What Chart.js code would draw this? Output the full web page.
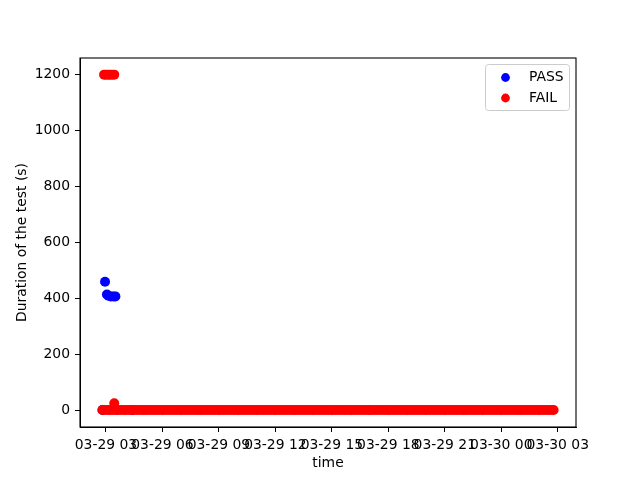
<!DOCTYPE html>
<html><head><meta charset="utf-8">
<script src="https://cdn.jsdelivr.net/npm/chart.js@4/dist/chart.umd.min.js"></script>
<style>html,body{margin:0;padding:0;background:#fff}#wrap{width:640px;height:480px}</style>
</head><body><div id="wrap"><canvas id="c" width="640" height="480"></canvas></div>
<script>
// x values are hours since 03-29 00:00
const seriesNames = ['PASS', 'FAIL'];
const passPoints = [[2.82,2],[2.95,460],[3.05,415],[3.13,410],[3.26,408],[3.40,408],[3.50,408],[3.60,3],[4.40,2]];
const failPoints = [
 [2.90,1200],[3.00,1200],[3.12,1200],[3.22,1200],[3.33,1200],[3.44,1200],[3.44,26],
 [2.81,2],[2.95,2],[3.10,2],[3.20,2],[3.35,2],[3.50,2],[3.65,2],[3.80,2],[3.95,2],
 [4.05,2],[4.20,2],[4.35,2],[4.50,2],[4.65,2],[4.80,2],[4.95,2],
 [5.05,2],[5.20,2],[5.35,2],[5.50,2],[5.65,2],[5.80,2],[5.95,2],
 [6.05,2],[6.20,2],[6.35,2],[6.50,2],[6.65,2],[6.80,2],[6.95,2],
 [7.05,2],[7.20,2],[7.35,2],[7.50,2],[7.65,2],[7.80,2],[7.95,2],
 [8.05,2],[8.20,2],[8.35,2],[8.50,2],[8.65,2],[8.80,2],[8.95,2],
 [9.05,2],[9.20,2],[9.35,2],[9.50,2],[9.65,2],[9.80,2],[9.95,2],
 [10.05,2],[10.20,2],[10.35,2],[10.50,2],[10.65,2],[10.80,2],[10.95,2],
 [11.05,2],[11.20,2],[11.35,2],[11.50,2],[11.65,2],[11.80,2],[11.95,2],
 [12.05,2],[12.20,2],[12.35,2],[12.50,2],[12.65,2],[12.80,2],[12.95,2],
 [13.05,2],[13.20,2],[13.35,2],[13.50,2],[13.65,2],[13.80,2],[13.95,2],
 [14.05,2],[14.20,2],[14.35,2],[14.50,2],[14.65,2],[14.80,2],[14.95,2],
 [15.05,2],[15.20,2],[15.35,2],[15.50,2],[15.65,2],[15.80,2],[15.95,2],
 [16.05,2],[16.20,2],[16.35,2],[16.50,2],[16.65,2],[16.80,2],[16.95,2],
 [17.05,2],[17.20,2],[17.35,2],[17.50,2],[17.65,2],[17.80,2],[17.95,2],
 [18.05,2],[18.20,2],[18.35,2],[18.50,2],[18.65,2],[18.80,2],[18.95,2],
 [19.05,2],[19.20,2],[19.35,2],[19.50,2],[19.65,2],[19.80,2],[19.95,2],
 [20.05,2],[20.20,2],[20.35,2],[20.50,2],[20.65,2],[20.80,2],[20.95,2],
 [21.05,2],[21.20,2],[21.35,2],[21.50,2],[21.65,2],[21.80,2],[21.95,2],
 [22.05,2],[22.20,2],[22.35,2],[22.50,2],[22.65,2],[22.80,2],[22.95,2],
 [23.05,2],[23.20,2],[23.35,2],[23.50,2],[23.65,2],[23.80,2],[23.95,2],
 [24.05,2],[24.20,2],[24.35,2],[24.50,2],[24.65,2],[24.80,2],[24.95,2],
 [25.05,2],[25.20,2],[25.35,2],[25.50,2],[25.65,2],[25.80,2],[25.95,2],
 [26.05,2],[26.20,2],[26.35,2],[26.50,2],[26.65,2],[26.78,2]
];
const xTickHours = [3,6,9,12,15,18,21,24,27];
const xTickLabels = ['03-29 03','03-29 06','03-29 09','03-29 12','03-29 15','03-29 18','03-29 21','03-30 00','03-30 03'];
const yTickValues = [0,200,400,600,800,1000,1200];
const colors = {PASS:'#0000ff', FAIL:'#ff0000'};
const FONT = 'DejaVu Sans';

const toXY = arr => arr.map(p => ({x:p[0], y:p[1]}));

const framePlugin = {
  id:'frame',
  afterDraw(chart){
    const {ctx, chartArea:a} = chart;
    ctx.save();
    ctx.strokeStyle = '#000'; ctx.lineWidth = 1.1;
    ctx.strokeRect(a.left, a.top, a.right - a.left, a.bottom - a.top);
    // legend
    const bx = 485.5, by = 64.5, bw = 84, bh = 46, r = 3;
    ctx.beginPath();
    ctx.moveTo(bx+r, by); ctx.lineTo(bx+bw-r, by); ctx.arcTo(bx+bw, by, bx+bw, by+r, r);
    ctx.lineTo(bx+bw, by+bh-r); ctx.arcTo(bx+bw, by+bh, bx+bw-r, by+bh, r);
    ctx.lineTo(bx+r, by+bh); ctx.arcTo(bx, by+bh, bx, by+bh-r, r);
    ctx.lineTo(bx, by+r); ctx.arcTo(bx, by, bx+r, by, r); ctx.closePath();
    ctx.fillStyle = 'rgba(255,255,255,0.8)'; ctx.fill();
    ctx.strokeStyle = '#cccccc'; ctx.lineWidth = 1; ctx.stroke();
    seriesNames.forEach((n, i) => {
      const cy = 77.5 + i * 20.5;
      ctx.beginPath(); ctx.arc(505.5, cy, 4.4, 0, Math.PI*2);
      ctx.fillStyle = colors[n]; ctx.fill();
      ctx.fillStyle = '#000'; ctx.font = '13.9px "' + FONT + '"';
      ctx.textBaseline = 'middle'; ctx.textAlign = 'left';
      ctx.fillText(n, 529, cy);
    });
    ctx.restore();
  }
};

new Chart(document.getElementById('c'), {
  type:'scatter',
  data:{datasets:[
    {label:'PASS', data:toXY(passPoints), backgroundColor:colors.PASS, borderColor:colors.PASS, pointRadius:5, borderWidth:0, order:1},
    {label:'FAIL', data:toXY(failPoints), backgroundColor:colors.FAIL, borderColor:colors.FAIL, pointRadius:5, borderWidth:0, order:0}
  ]},
  options:{
    responsive:false, animation:false, devicePixelRatio:1,
    layout:{padding:{top:58, right:64, left:0, bottom:0}},
    plugins:{legend:{display:false}, tooltip:{enabled:false}},
    scales:{
      x:{type:'linear', min:1.62, max:27.97,
        afterBuildTicks: s => { s.ticks = xTickHours.map(v => ({value:v})); },
        afterFit: s => { s.height = 53; },
        grid:{drawOnChartArea:false, drawTicks:true, tickLength:5, color:'#000', lineWidth:1},
        border:{display:true, color:'#000', width:1},
        ticks:{autoSkip:false, maxRotation:0, minRotation:0, padding:5, color:'#000',
          font:{family:FONT, size:13.9},
          callback:(v) => { const i = xTickHours.indexOf(v); return i >= 0 ? xTickLabels[i] : ''; }},
        title:{display:true, text:'time', color:'#000', font:{family:FONT, size:13.9}, padding:{top:0, bottom:8}}
      },
      y:{type:'linear', min:-58.5, max:1259.5,
        afterBuildTicks: s => { s.ticks = yTickValues.map(v => ({value:v})); },
        afterFit: s => { s.width = 80; },
        grid:{drawOnChartArea:false, drawTicks:true, tickLength:5, color:'#000', lineWidth:1},
        border:{display:true, color:'#000', width:1},
        ticks:{padding:5, color:'#000', font:{family:FONT, size:13.9}, callback:(v) => String(v)},
        title:{display:true, text:'Duration of the test (s)', color:'#000', font:{family:FONT, size:13.9}, padding:{top:14, bottom:0}}
      }
    }
  },
  plugins:[framePlugin]
});
</script></body></html>
